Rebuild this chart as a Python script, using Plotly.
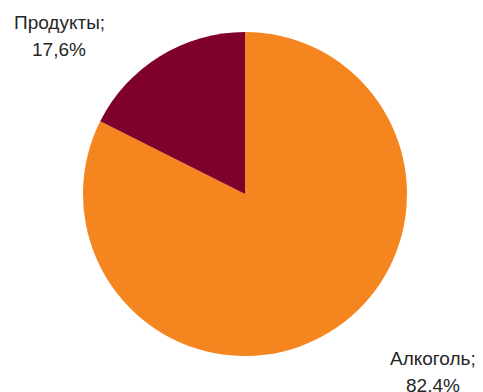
import plotly.graph_objects as go

# Share of spending by category, percent
categories = ["Алкоголь", "Продукты"]
shares = [82.4, 17.6]
colors = ["#F5861F", "#80002C"]

W, H = 483, 392
cx, cy, r = 245, 194, 162  # pie centre and radius in pixels

fig = go.Figure(
    go.Pie(
        labels=categories,
        values=shares,
        sort=False,
        direction="clockwise",
        rotation=0,
        marker=dict(colors=colors, line=dict(width=0)),
        textinfo="none",
        hoverinfo="label+percent",
        showlegend=False,
        domain=dict(
            x=[(cx - r) / W, (cx + r) / W],
            y=[(H - cy - r) / H, (H - cy + r) / H],
        ),
    )
)

def fmt(v):
    return f"{v:.1f}".replace(".", ",") + "%"

# Outside labels: (centre x, first line y, second line y) in pixels
label_pos = {"Продукты": (59, 23, 50), "Алкоголь": (433, 358, 385)}
font = dict(family="Liberation Sans, Arial, sans-serif", size=19, color="#262626")
for name, val in zip(categories, shares):
    x, y1, y2 = label_pos[name]
    for txt, y in ((f"{name};", y1), (fmt(val), y2)):
        fig.add_annotation(
            x=x / W, y=1 - y / H, xref="paper", yref="paper",
            text=txt, showarrow=False, xanchor="center", yanchor="middle",
            font=font,
        )

fig.update_layout(
    width=W, height=H,
    margin=dict(l=0, r=0, t=0, b=0),
    paper_bgcolor="white", plot_bgcolor="white",
)

fig.write_html("out.html")
